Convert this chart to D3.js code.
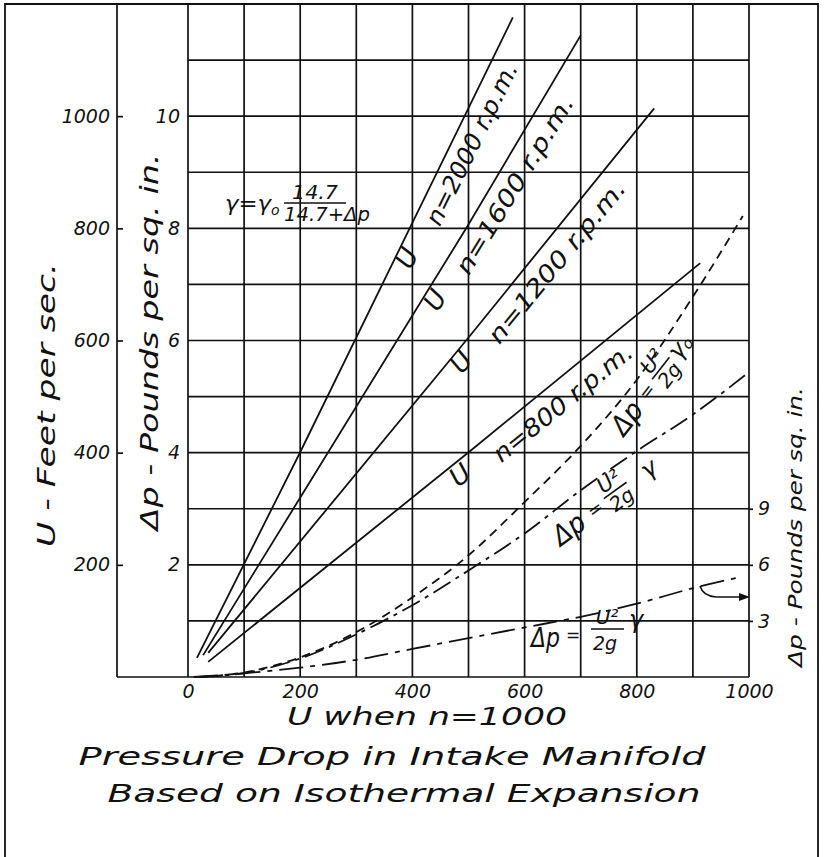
<!DOCTYPE html>
<html><head><meta charset="utf-8">
<script src="https://cdn.jsdelivr.net/npm/d3@7"></script>
<style>
html,body{margin:0;padding:0;background:#fff;}
svg text{font-family:"DejaVu Sans",sans-serif;font-style:italic;fill:#111;}
</style></head>
<body>
<svg id="c" width="825" height="857"></svg>
<script>
// ---------- data ----------
const xTicks = [0, 200, 400, 600, 800, 1000];          // U when n = 1000
const uTicks = [200, 400, 600, 800, 1000];             // U - ft/s
const dpLeftTicks = [2, 4, 6, 8, 10];                  // Δp psi (left)
const dpRightTicks = [3, 6, 9];                        // Δp psi (right)
const xGrid = [0,100,200,300,400,500,600,700,800,900,1000];
const uGrid = [100,200,300,400,500,600,700,800,900,1000,1100,1200];

// velocity lines  [U at n=1000, U at n]
const n2000 = [[16,34],[201,403],[579,1176]];
const n1600 = [[27,39],[497,802],[700,1144]];
const n1200 = [[36,43],[499,604],[831,1014]];
const n800  = [[36,27],[503,403],[913,738]];

// Δp = U²/2g γ0  (left Δp scale)
const dpGamma0 = [[20,0],[100,0.08],[200,0.35],[300,0.80],[400,1.42],[500,2.17],[600,3.12],[700,4.12],[800,5.30],[900,6.78],[989,8.22]];
// Δp = U²/2g γ  (left Δp scale)
const dpGamma = [[20,0],[100,0.07],[200,0.33],[300,0.76],[400,1.28],[500,1.90],[600,2.56],[700,3.33],[800,4.03],[900,4.68],[998,5.42]];
// Δp = U²/2g γ  (right Δp scale)
const dpGammaR = [[10,0],[100,0.2],[200,0.5],[300,0.92],[400,1.5],[500,2.08],[600,2.65],[700,3.22],[800,3.92],[900,4.75],[985,5.35]];

// ---------- scales ----------
const svg = d3.select("#c");
const x = d3.scaleLinear().domain([0,1000]).range([188,749]);
const yU = d3.scaleLinear().domain([0,1200]).range([677,4]);
const yDp = d3.scaleLinear().domain([0,12]).range([677,4]);
const yDpR = d3.scaleLinear().domain([0,36]).range([677,4]);
const INK = "#111";
const fmt = d3.format("d");

// frame
svg.append("path").attr("d","M5,857 L5,4 L818,4 L818,857")
  .attr("fill","none").attr("stroke",INK).attr("stroke-width",1.8);

// grid
const g = svg.append("g").attr("stroke",INK).attr("stroke-width",1.7);
g.selectAll("line.v").data(xGrid).join("line")
  .attr("x1",d=>x(d)).attr("x2",d=>x(d)).attr("y1",yU(0)).attr("y2",yU(1200));
g.selectAll("line.h").data(uGrid).join("line")
  .attr("x1",x(0)).attr("x2",x(1000)).attr("y1",d=>yU(d)).attr("y2",d=>yU(d));
// outer U axis line & base line
g.append("line").attr("x1",117).attr("x2",117).attr("y1",yU(0)).attr("y2",yU(1200));
g.append("line").attr("x1",117).attr("x2",x(1000)).attr("y1",yU(0)).attr("y2",yU(0));

function styleAxis(sel, size){
  sel.attr("font-family",null).attr("font-size",null);
  sel.select(".domain").remove();
  sel.selectAll(".tick line").attr("stroke",INK).attr("stroke-width",1.7);
  sel.selectAll(".tick text").style("font-size",size+"px").attr("fill",INK);
}
// U axis
const aU = svg.append("g").attr("transform","translate(117,0)")
  .call(d3.axisLeft(yU).tickValues(uTicks).tickFormat(fmt).tickSize(-6).tickPadding(7));
styleAxis(aU,19);
// Δp left axis
const aDp = svg.append("g").attr("transform",`translate(${x(0)},0)`)
  .call(d3.axisLeft(yDp).tickValues(dpLeftTicks).tickFormat(fmt).tickSize(0).tickPadding(8));
styleAxis(aDp,19);
// bottom axis
const aX = svg.append("g").attr("transform",`translate(0,${yU(0)})`)
  .call(d3.axisBottom(x).tickValues(xTicks).tickFormat(fmt).tickSize(0).tickPadding(8));
styleAxis(aX,19);
// right axis
const aR = svg.append("g").attr("transform",`translate(${x(1000)},0)`)
  .call(d3.axisRight(yDpR).tickValues(dpRightTicks).tickFormat(fmt).tickSize(4).tickPadding(5));
styleAxis(aR,19);

// curves
const lineU = d3.line().x(d=>x(d[0])).y(d=>yU(d[1]));
const lineDp = d3.line().x(d=>x(d[0])).y(d=>yDp(d[1])).curve(d3.curveMonotoneX);
const lineDpR = d3.line().x(d=>x(d[0])).y(d=>yDpR(d[1])).curve(d3.curveMonotoneX);
const cg = svg.append("g").attr("fill","none").attr("stroke",INK).attr("stroke-width",1.8);
[n2000,n1600,n1200,n800].forEach(s=>cg.append("path").attr("d",lineU(s)));
cg.append("path").attr("d",lineDp(dpGamma0)).attr("stroke-dasharray","9,6");
cg.append("path").attr("d",lineDp(dpGamma)).attr("stroke-dasharray","20,6,4,6");
cg.append("path").attr("d",lineDpR(dpGammaR)).attr("stroke-dasharray","24,7,5,7");

// ---------- texts ----------
function txt(parent,s,x0,y0,opts={}){
  const t = parent.append("text").attr("x",x0).attr("y",y0).text(s)
    .style("font-size",(opts.size||20)+"px");
  if(opts.anchor) t.attr("text-anchor",opts.anchor);
  if(opts.base) t.attr("dominant-baseline",opts.base);
  if(opts.len) t.attr("textLength",opts.len).attr("lengthAdjust","spacingAndGlyphs");
  if(opts.tr) t.attr("transform",opts.tr);
  return t;
}
// axis titles
txt(svg,"U - Feet per sec.",0,0,{size:24,anchor:"middle",base:"central",len:284,tr:"translate(47,405) rotate(-90)"});
txt(svg,"Δp - Pounds per sq. in.",0,0,{size:24,anchor:"middle",base:"central",len:377,tr:"translate(150,342) rotate(-90)"});
txt(svg,"Δp - Pounds per sq. in.",0,0,{size:19,anchor:"middle",base:"central",len:280,tr:"translate(795,527) rotate(-90)"});
txt(svg,"U  when  n=1000",427,725,{size:24,anchor:"middle",len:280});
txt(svg,"Pressure Drop in Intake Manifold",392,765,{size:24,anchor:"middle",len:627});
txt(svg,"Based on Isothermal Expansion",404,802,{size:24,anchor:"middle",len:593});

// line labels
function angleOf(s){
  const a=s[0], b=s[s.length-1];
  return Math.atan2(yU(b[1])-yU(a[1]), x(b[0])-x(a[0]))*180/Math.PI;
}
const lineLabels = [
  {s:n2000, u:[407,258], t:[472,144], label:"n=2000 r.p.m.", len:178},
  {s:n1600, u:[435,300], t:[515,185], label:"n=1600 r.p.m.", len:204},
  {s:n1200, u:[461,362], t:[557,262], label:"n=1200 r.p.m.", len:202},
  {s:n800,  u:[460,475], t:[563,403], label:"n=800 r.p.m.", len:172}
];
lineLabels.forEach(L=>{
  const a = angleOf(L.s);
  txt(svg,"U",0,0,{size:26,anchor:"middle",base:"central",tr:`translate(${L.u[0]},${L.u[1]}) rotate(${a})`});
  txt(svg,L.label,0,0,{size:24,anchor:"middle",base:"central",len:L.len,tr:`translate(${L.t[0]},${L.t[1]}) rotate(${a})`});
});

// formula γ = γo 14.7/(14.7+Δp)
const fg = svg.append("g");
txt(fg,"γ=γ",225,211,{size:21,len:46});
txt(fg,"o",271,215,{size:14});
txt(fg,"14.7",315,199,{size:20,anchor:"middle",len:46});
fg.append("line").attr("x1",284).attr("x2",346).attr("y1",203).attr("y2",203).attr("stroke",INK).attr("stroke-width",1.6);
txt(fg,"14.7+Δp",327,221,{size:20,anchor:"middle",len:86});

// fraction labels
function dpLabel(cx,cy,ang,pos,sub){
  const gg = svg.append("g").attr("transform",`translate(${cx},${cy}) rotate(${ang})`);
  txt(gg,"Δp",0,0,{size:28,anchor:"middle",base:"central",len:34});
  txt(gg,"=",pos[0],-1,{size:18,anchor:"middle",base:"central"});
  txt(gg,"U²",pos[1],-8,{size:21,anchor:"middle"});
  gg.append("line").attr("x1",pos[1]-14).attr("x2",pos[1]+14).attr("y1",-4).attr("y2",-4).attr("stroke",INK).attr("stroke-width",1.6);
  txt(gg,"2g",pos[1],14,{size:20,anchor:"middle"});
  txt(gg,"γ",pos[2],-2,{size:24,anchor:"middle",base:"central"});
  if(sub) txt(gg,"o",pos[2]+12,2,{size:15,anchor:"middle",base:"central"});
  return gg;
}
dpLabel(627,418,-52,[33,60,84],true);
dpLabel(569,529,-36,[33,60,100],false);
// horizontal label
const hg = svg.append("g");
txt(hg,"Δp",531,647,{size:26,len:29});
txt(hg,"=",566,641,{size:17});
txt(hg,"U²",607,624,{size:20,anchor:"middle"});
hg.append("line").attr("x1",591).attr("x2",624).attr("y1",629).attr("y2",629).attr("stroke",INK).attr("stroke-width",1.6);
txt(hg,"2g",605,650,{size:19,anchor:"middle"});
txt(hg,"γ",636,628,{size:24,anchor:"middle"});

// arrow to right scale
svg.append("path").attr("d","M700,586 Q703,596 716,597 L741,597")
  .attr("fill","none").attr("stroke",INK).attr("stroke-width",1.6);
svg.append("path").attr("d","M750,597 L739,593 L739,601 Z").attr("fill",INK);
</script>
</body></html>
